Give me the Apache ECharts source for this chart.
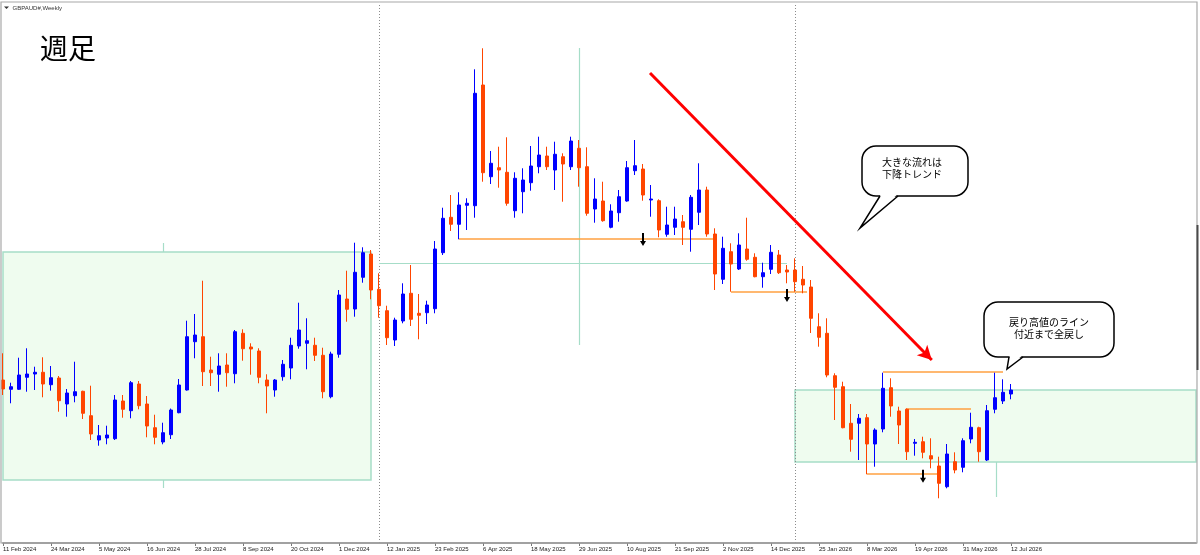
<!DOCTYPE html>
<html><head><meta charset="utf-8">
<script src="https://cdn.jsdelivr.net/npm/echarts@6/dist/echarts.min.js"></script>
<style>html,body{margin:0;padding:0;background:#fff}#c{width:1200px;height:555px}</style>
</head><body><div id="c"></div>
<script>
// Weekly tick labels (every 6th weekly bar, starting at bar 0)
const tickLabels = ['11 Feb 2024','24 Mar 2024','5 May 2024','16 Jun 2024','28 Jul 2024','8 Sep 2024','20 Oct 2024','1 Dec 2024','12 Jan 2025','23 Feb 2025','6 Apr 2025','18 May 2025','29 Jun 2025','10 Aug 2025','21 Sep 2025','2 Nov 2025','14 Dec 2025','25 Jan 2026','8 Mar 2026','19 Apr 2026','31 May 2026','12 Jul 2026'];

const opens = [1.9340,1.9275,1.9275,1.9359,1.9382,1.9394,1.9307,1.9354,1.9172,1.9230,
1.9261,1.9090,1.8920,1.8934,1.8929,1.9193,1.9125,1.9312,1.9172,1.9006,
1.8906,1.8957,1.9111,1.9270,1.9608,1.9643,1.9410,1.9380,1.9445,1.9384,
1.9667,1.9571,1.9543,1.9340,1.9270,1.9363,1.9424,1.9578,1.9597,1.9583,
1.9513,1.9223,1.9520,1.9907,1.9837,2.0059,2.0222,1.9975,1.9825,1.9620,
1.9753,1.9947,1.9807,1.9811,1.9839,2.0231,2.0479,2.0430,2.0563,2.0560,
2.1405,2.0763,2.0826,2.0794,2.0525,2.0658,2.0721,2.0833,2.0908,2.0810,
2.0903,2.0833,2.0962,2.0833,2.0537,2.0593,2.0409,2.0511,2.0593,2.0805,
2.0817,2.0600,2.0595,2.0360,2.0409,2.0448,2.0395,2.0514,2.0670,2.0362,
2.0045,2.0238,2.0117,2.0257,2.0199,2.0063,2.0115,2.0215,2.0110,2.0110,
2.0045,1.9991,1.9713,1.9667,1.9370,1.9293,1.9037,1.9037,1.9076,1.8892,
1.8997,1.9286,1.9123,1.9135,1.8897,1.8908,1.8810,1.8738,1.8593,1.8768,
1.8729,1.8927,1.9006,1.8780,1.9135,1.9193,1.9242];

const closes = [1.9277,1.9293,1.9375,1.9382,1.9394,1.9312,1.9356,1.9195,1.9249,1.9258,
1.9107,1.8962,1.8950,1.8955,1.9200,1.9135,1.9321,1.9160,1.9018,1.8939,
1.8971,1.9130,1.9305,1.9643,1.9655,1.9398,1.9391,1.9438,1.9391,1.9678,
1.9559,1.9557,1.9359,1.9298,1.9340,1.9450,1.9583,1.9690,1.9615,1.9513,
1.9258,1.9522,1.9935,1.9835,2.0094,2.0231,1.9970,1.9860,1.9636,1.9760,
1.9942,1.9765,1.9793,1.9865,2.0257,2.0472,2.0430,2.0565,2.0577,2.1347,
2.0791,2.0857,2.0810,2.0577,2.0752,2.0740,2.0838,2.0915,2.0833,2.0920,
2.0852,2.1013,2.0826,2.0507,2.0607,2.0455,2.0523,2.0623,2.0826,2.0840,
2.0635,2.0607,2.0390,2.0425,2.0467,2.0409,2.0619,2.0670,2.0362,2.0082,
2.0262,2.0152,2.0285,2.0185,2.0063,2.0091,2.0234,2.0091,2.0096,2.0028,
2.0005,1.9772,1.9639,1.9375,1.9289,1.9006,1.8925,1.9072,1.8892,1.8990,
1.9282,1.9158,1.9025,1.8838,1.8904,1.8834,1.8787,1.8617,1.8822,1.8710,
1.8915,1.9009,1.8838,1.9125,1.9216,1.9254,1.9270];

const highs = [1.9527,1.9321,1.9496,1.9562,1.9433,1.9499,1.9438,1.9368,1.9277,1.9468,
1.9265,1.9300,1.9025,1.9020,1.9235,1.9235,1.9333,1.9333,1.9228,1.9097,
1.9041,1.9140,1.9347,1.9755,1.9802,2.0035,1.9503,1.9527,1.9527,1.9690,
1.9695,1.9597,1.9562,1.9380,1.9347,1.9480,1.9636,1.9881,1.9772,1.9636,
1.9566,1.9538,1.9970,2.0105,2.0301,2.0269,2.0250,2.0087,1.9860,1.9776,
2.0017,2.0145,1.9942,1.9895,2.0313,2.0546,2.0635,2.0654,2.0612,2.1515,
2.1662,2.0943,2.0973,2.1039,2.0794,2.0822,2.0978,2.1043,2.0973,2.1008,
2.0927,2.1043,2.1020,2.0969,2.0752,2.0728,2.0570,2.0670,2.0873,2.1020,
2.0852,2.0705,2.0605,2.0553,2.0553,2.0495,2.0635,2.0857,2.0693,2.0402,
2.0343,2.0297,2.0367,2.0476,2.0227,2.0161,2.0285,2.0250,2.0145,2.0192,
2.0138,2.0040,1.9807,1.9772,1.9387,1.9328,1.9172,1.9102,1.9102,1.9002,
1.9391,1.9352,1.9153,1.9142,1.8927,1.8943,1.8932,1.8803,1.8892,1.8834,
1.8932,1.9111,1.9013,1.9165,1.9391,1.9345,1.9312];

const lows = [1.9235,1.9177,1.9270,1.9258,1.9270,1.9219,1.9265,1.9118,1.9083,1.9184,
1.9067,1.8920,1.8880,1.8890,1.8920,1.9076,1.9072,1.9135,1.8939,1.8890,
1.8890,1.8927,1.9107,1.9266,1.9492,1.9298,1.9298,1.9258,1.9293,1.9317,
1.9475,1.9377,1.9317,1.9107,1.9223,1.9335,1.9345,1.9559,1.9415,1.9473,
1.9212,1.9212,1.9496,1.9748,1.9783,2.0021,1.9905,1.9776,1.9585,1.9578,
1.9737,1.9718,1.9625,1.9732,1.9807,2.0215,2.0383,2.0325,2.0390,2.0476,
2.0728,2.0712,2.0686,2.0560,2.0476,2.0507,2.0665,2.0787,2.0810,2.0670,
2.0588,2.0810,2.0693,2.0490,2.0441,2.0448,2.0402,2.0448,2.0588,2.0775,
2.0595,2.0483,2.0339,2.0343,2.0355,2.0285,2.0238,2.0425,2.0343,1.9970,
2.0012,1.9958,2.0110,2.0175,2.0059,1.9986,2.0082,2.0082,2.0017,1.9958,
1.9947,1.9669,1.9573,1.9359,1.9060,1.9002,1.8838,1.8780,1.8680,1.8733,
1.8974,1.9083,1.8892,1.8780,1.8810,1.8792,1.8722,1.8512,1.8582,1.8687,
1.8694,1.8897,1.8768,1.8773,1.9107,1.9172,1.9205];

// Chart objects (bar index, price)
const levels = [[57, 89, 2.0327], [91, 100.5, 1.9956], [110, 125, 1.9396], [113, 121, 1.9137], [108, 117, 1.8682]];
const zones = [[0, 46, 2.0236, 1.8640], [99, 149.125, 1.9270, 1.8766]];
const guideLines = [[47, 2.0159, 98, 2.0159], [72, 2.1664, 72, 1.9585], [20, 2.0299, 20, 2.0236], [20, 1.8640, 20, 1.8584], [124.1, 1.8766, 124.1, 1.8521]];
const arrows = [[80, 2.0324], [98, 1.9932], [115, 1.8666]];
const trend = [[80.875, 2.1489], [116.1, 1.9480]];
const separators = [47, 99];
const yMin = 1.8199, yMax = 2.1979, xMax = 149.125;

const candleData = opens.map((o, i) => [i, o, closes[i], lows[i], highs[i]]);
const tickValues = tickLabels.map((_, i) => i * 6);

const lineMarks = [];
separators.forEach(x => lineMarks.push({ xAxis: x, lineStyle: { color: '#8c8c8c', width: 1, type: [1, 2] } }));
guideLines.forEach(g => lineMarks.push([{ coord: [g[0], g[1]], lineStyle: { color: '#a6ddc8', width: 1.2, type: 'solid' } }, { coord: [g[2], g[3]] }]));
levels.forEach(l => lineMarks.push([{ coord: [l[0], l[2]], lineStyle: { color: '#ffa040', width: 1.6, type: 'solid' } }, { coord: [l[1], l[2]] }]));
lineMarks.push([{ coord: trend[0], symbol: 'none', lineStyle: { color: '#ff0000', width: 3, type: 'solid' } }, { coord: trend[1], symbol: 'arrow', symbolSize: [11, 14] }]);

const chart = echarts.init(document.getElementById('c'), null, { renderer: 'canvas' });
const cjk = '"Noto Sans CJK JP", "Noto Sans CJK SC", sans-serif';

// speech bubble: rounded rect + tail (white cover + outline)
function bubble(x0, y0, x1, y1, r, b0, b1, tx, ty) {
  return [
    { type: 'rect', silent: true, z: 101, shape: { x: x0, y: y0, width: x1 - x0, height: y1 - y0, r: r }, style: { fill: '#fff', stroke: '#000', lineWidth: 1.5 } },
    { type: 'polygon', silent: true, z: 102, shape: { points: [[b0 + 0.8, y1 - 1.5], [tx, ty], [b1 - 0.8, y1 - 1.5]] }, style: { fill: '#fff' } },
    { type: 'polyline', silent: true, z: 103, shape: { points: [[b0, y1], [tx, ty], [b1, y1]] }, style: { stroke: '#000', lineWidth: 1.5, fill: null } }
  ];
}

chart.setOption({
  animation: false,
  backgroundColor: '#ffffff',
  title: {
    text: '週足', left: 35, top: 29,
    textStyle: { fontSize: 28, fontWeight: 'normal', color: '#000', fontFamily: cjk }
  },
  grid: { left: 3, right: 4, top: 3, bottom: 12, containLabel: false },
  xAxis: {
    type: 'value', min: 0, max: xMax, interval: 6,
    axisLine: { show: true, lineStyle: { color: '#9a9a9a', width: 2 } },
    axisTick: { show: true, length: 3, lineStyle: { color: '#777', width: 1 }, customValues: tickValues },
    axisLabel: {
      show: true, align: 'left', margin: 3, fontSize: 6, color: '#222', fontFamily: 'Liberation Sans',
      customValues: tickValues,
      formatter: v => { const i = Math.round(v / 6); return (v % 6 === 0 && i < tickLabels.length) ? tickLabels[i] : ''; }
    },
    splitLine: { show: false }
  },
  yAxis: {
    type: 'value', min: yMin, max: yMax, show: false, splitLine: { show: false }
  },
  series: [{
    type: 'candlestick',
    data: candleData,
    barWidth: 4,
    clip: true,
    z: 2,
    itemStyle: { color: '#0000ff', color0: '#ff4500', borderColor: '#0000ff', borderColor0: '#ff4500', borderWidth: 1 },
    markArea: {
      silent: true, z: 0,
      itemStyle: { color: '#effcef', borderColor: '#a6ddc8', borderWidth: 1.5 },
      data: zones.map(z => [{ coord: [z[0], z[2]] }, { coord: [z[1], z[3]] }])
    },
    markLine: {
      silent: true, z: 1, symbol: ['none', 'none'],
      label: { show: false },
      data: lineMarks
    },
    markPoint: {
      silent: true, z: 6,
      symbol: 'path://M2,0 L4,0 L4,8 L6,8 L3,13 L0,8 L2,8 Z',
      symbolSize: [6, 13],
      itemStyle: { color: '#000' },
      label: { show: false },
      data: arrows.map(a => ({ coord: a }))
    }
  }],
  graphic: [
    { type: 'rect', silent: true, z: 100, shape: { x: 1, y: 2, width: 1196, height: 541 }, style: { fill: 'none', stroke: '#a8a8a8', lineWidth: 1.2 } },
    { type: 'line', silent: true, z: 101, shape: { x1: 1197.5, y1: 225, x2: 1197.5, y2: 370 }, style: { stroke: '#4a4a4a', lineWidth: 2 } },
    { type: 'polygon', silent: true, z: 101, shape: { points: [[4, 6.5], [9, 6.5], [6.5, 9]] }, style: { fill: '#333' } },
    { type: 'text', silent: true, z: 101, style: { text: 'GBPAUD#,Weekly', x: 12.5, y: 8, verticalAlign: 'middle', font: '6px "Liberation Sans"', fill: '#333' } },
    ...bubble(862, 146, 968, 196, 14, 880, 898, 860, 228),
    { type: 'text', silent: true, z: 104, style: { text: '大きな流れは\n下降トレンド', x: 912, y: 168, align: 'center', verticalAlign: 'middle', font: '10px ' + cjk, lineHeight: 11.5, fill: '#000' } },
    ...bubble(984, 302, 1114, 357, 14, 1009, 1023, 1007, 369),
    { type: 'text', silent: true, z: 104, style: { text: '戻り高値のライン\n付近まで全戻し', x: 1049, y: 328, align: 'center', verticalAlign: 'middle', font: '10px ' + cjk, lineHeight: 12, fill: '#000' } }
  ]
});
</script></body></html>
